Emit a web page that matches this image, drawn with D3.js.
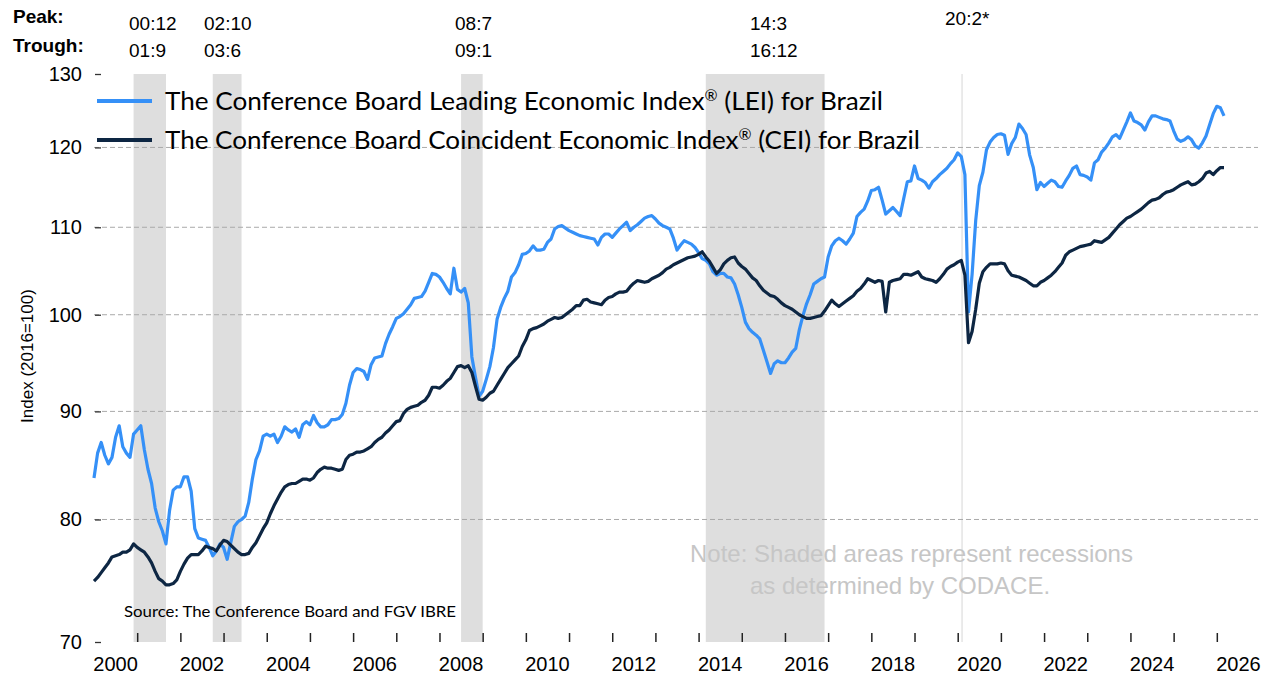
<!DOCTYPE html>
<html>
<head>
<meta charset="utf-8">
<script src="https://cdn.jsdelivr.net/npm/d3@7"></script>
<style>
    body { margin: 0; background: #fff; }
    #chart { width: 1271px; height: 675px; }
</style>
</head>
<body>
<div id="chart"></div>
<script>

// monthly values, Jan 2000 - Mar 2026 (one row per year)
const leiValues = [
    83.7, 86.0, 87.0, 85.8, 85.0, 85.6, 87.5, 88.6, 86.6, 86.0, 85.6, 87.8,
    88.2, 88.6, 86.3, 84.5, 83.2, 81.0, 79.8, 79.0, 77.9, 80.8, 82.6, 82.9,
    82.9, 83.8, 83.8, 82.5, 79.2, 78.4, 78.3, 78.2, 77.6, 76.9, 77.3, 77.9,
    77.6, 76.6, 78.0, 79.4, 79.8, 80.0, 80.3, 81.5, 83.6, 85.4, 86.2, 87.6,
    87.8, 87.6, 87.8, 87.0, 87.6, 88.5, 88.2, 88.0, 88.3, 87.5, 88.7, 89.0,
    88.7, 89.6, 88.9, 88.5, 88.5, 88.7, 89.2, 89.2, 89.3, 89.7, 90.8, 92.6,
    93.9, 94.3, 94.2, 94.0, 93.2, 94.7, 95.4, 95.5, 95.6, 96.9, 97.9, 98.7,
    99.6, 99.8, 100.1, 100.6, 101.1, 101.8, 101.9, 102.0, 102.6, 103.6, 104.6, 104.5,
    104.2, 103.6, 102.9, 102.3, 105.2, 102.8, 102.5, 102.9, 101.3, 95.5, 93.4, 91.5,
    92.0, 93.2, 94.5, 96.5, 99.5, 100.8, 101.8, 102.6, 104.2, 104.7, 105.6, 106.8,
    106.9, 107.2, 107.8, 107.3, 107.3, 107.4, 108.2, 108.6, 109.8, 110.1, 110.2, 109.9,
    109.6, 109.4, 109.2, 109.0, 108.9, 108.8, 108.7, 108.6, 107.9, 108.8, 109.2, 109.2,
    108.8, 109.3, 109.8, 110.2, 110.6, 109.6, 110.0, 110.3, 110.7, 111.1, 111.3, 111.4,
    111.0, 110.5, 110.2, 110.0, 109.8, 108.7, 107.3, 107.9, 108.4, 108.2, 108.0, 107.6,
    107.0, 106.3, 106.1, 105.7, 104.8, 104.4, 104.6, 104.6, 104.2, 104.1, 103.4, 102.2,
    100.8, 99.2, 98.5, 98.1, 97.8, 97.4, 96.2, 95.0, 93.8, 94.8, 95.1, 94.9,
    94.9, 95.4, 96.0, 96.4, 98.4, 99.9, 101.2, 102.2, 103.4, 103.7, 104.0, 104.2,
    106.5, 107.8, 108.4, 108.7, 108.4, 108.0, 108.6, 109.3, 111.3, 111.8, 112.2, 113.2,
    114.5, 114.6, 114.9, 113.3, 111.6, 112.0, 112.4, 111.9, 111.4, 113.5, 115.6, 115.7,
    117.6, 116.0, 115.8, 115.5, 114.8, 115.6, 116.0, 116.5, 116.9, 117.3, 117.9, 118.4,
    119.3, 118.8, 116.5, 100.3, 104.5, 110.8, 115.1, 116.8, 119.7, 120.7, 121.3, 121.7,
    121.8, 121.6, 119.1, 120.5, 121.3, 123.1, 122.5, 121.7, 119.0, 117.4, 114.6, 115.5,
    115.0, 115.4, 115.8, 115.6, 115.0, 114.9, 115.7, 116.4, 117.3, 117.6, 116.5, 116.4,
    116.2, 115.8, 118.0, 118.4, 119.4, 119.9, 120.6, 121.4, 121.7, 121.2, 122.3, 123.4,
    124.6, 123.5, 123.3, 123.0, 122.3, 123.4, 124.2, 124.2, 124.0, 123.8, 123.7, 123.5,
    122.2, 121.1, 120.8, 121.0, 121.4, 121.0, 120.2, 119.9, 120.6, 121.5, 123.0, 124.5,
    125.5, 125.3, 124.2
];

const ceiValues = [
    74.8, 75.1, 75.5, 75.9, 76.3, 76.8, 76.9, 77.0, 77.2, 77.2, 77.4, 77.9,
    77.6, 77.4, 77.2, 76.8, 76.3, 75.6, 75.0, 74.8, 74.5, 74.5, 74.6, 74.9,
    75.6, 76.2, 76.7, 77.0, 77.0, 77.0, 77.3, 77.7, 77.6, 77.5, 77.3, 77.8,
    78.2, 78.1, 77.8, 77.5, 77.2, 77.0, 77.0, 77.1, 77.6, 78.0, 78.6, 79.2,
    79.7, 80.5, 81.2, 81.8, 82.4, 82.9, 83.1, 83.2, 83.2, 83.4, 83.6, 83.6,
    83.5, 83.7, 84.2, 84.5, 84.7, 84.6, 84.6, 84.5, 84.4, 84.5, 85.4, 85.8,
    85.9, 86.1, 86.1, 86.2, 86.4, 86.6, 87.0, 87.3, 87.5, 87.9, 88.2, 88.6,
    89.0, 89.1, 89.8, 90.2, 90.4, 90.5, 90.6, 90.9, 91.1, 91.6, 92.4, 92.4,
    92.3, 92.6, 93.0, 93.3, 93.9, 94.5, 94.6, 94.4, 94.6, 93.9, 92.5, 91.2,
    91.1, 91.4, 91.8, 92.0, 92.6, 93.2, 93.8, 94.4, 94.8, 95.2, 95.6, 96.6,
    97.3, 98.3, 98.5, 98.6, 98.8, 99.0, 99.3, 99.5, 99.7, 99.6, 99.7, 100.0,
    100.3, 100.6, 101.0, 101.0, 101.6, 101.7, 101.4, 101.3, 101.2, 101.1, 101.6, 101.9,
    102.0, 102.3, 102.5, 102.5, 102.6, 103.1, 103.5, 103.8, 103.7, 103.6, 103.7, 104.0,
    104.2, 104.4, 104.7, 105.1, 105.3, 105.6, 105.8, 106.0, 106.2, 106.4, 106.5, 106.6,
    106.8, 107.1, 106.5, 106.0, 105.3, 104.6, 105.0, 105.7, 106.1, 106.4, 106.5, 105.8,
    105.4, 105.1, 104.6, 104.1, 103.8, 103.2, 102.7, 102.4, 102.1, 102.0, 101.7, 101.3,
    101.0, 100.8, 100.6, 100.3, 100.0, 99.8, 99.6, 99.6, 99.7, 99.8, 99.9, 100.4,
    101.0, 101.6, 101.2, 100.9, 101.2, 101.5, 101.8, 102.1, 102.6, 102.9, 103.4, 104.0,
    103.8, 103.6, 103.8, 103.7, 100.3, 103.6, 103.8, 103.9, 104.0, 104.5, 104.5, 104.4,
    104.6, 104.8, 104.2, 104.0, 103.9, 103.8, 103.6, 104.0, 104.5, 105.1, 105.4, 105.6,
    105.9, 106.1, 104.4, 97.0, 98.2, 100.6, 103.5, 104.8, 105.3, 105.7, 105.7, 105.7,
    105.8, 105.7, 104.9, 104.4, 104.3, 104.2, 104.0, 103.8, 103.5, 103.2, 103.2, 103.6,
    103.8, 104.1, 104.4, 104.8, 105.3, 105.8, 106.7, 107.1, 107.3, 107.5, 107.7, 107.8,
    107.9, 108.0, 108.4, 108.3, 108.2, 108.5, 108.8, 109.3, 109.8, 110.3, 110.7, 111.1,
    111.3, 111.6, 111.9, 112.2, 112.6, 113.0, 113.3, 113.4, 113.6, 114.0, 114.3, 114.4,
    114.6, 114.9, 115.2, 115.4, 115.6, 115.2, 115.3, 115.6, 116.0, 116.7, 116.9, 116.5,
    117.0, 117.4, 117.4
];

const startYear = 2000;
const endYear = 2027;
const yTickValues = [70, 80, 90, 100, 110, 120, 130];
const gridValues = [80, 90, 100, 110, 120];
const xLabelYears = d3.range(2000, 2027, 2);
const xTickYears = d3.range(2001, 2027);

// recessions (year:month)
const peakLabels = ["00:12", "02:10", "08:7", "14:3", "20:2*"];
const troughLabels = ["01:9", "03:6", "09:1", "16:12", ""];

const seriesNames = [
    "The Conference Board Leading Economic Index\u00AE (LEI) for Brazil",
    "The Conference Board Coincident Economic Index\u00AE (CEI) for Brazil"
];
const yAxisTitle = "Index (2016=100)";
const sourceText = "Source: The Conference Board and FGV IBRE";
const noteLines = ["Note: Shaded areas represent recessions", "as determined by CODACE."];


class IndexChart {

    constructor(parentElement) {
        this.parentElement = parentElement;
    }

    initVis() {
        let vis = this;

        vis.margin = {top: 74, right: 11, bottom: 33, left: 94};
        vis.width = 1271 - vis.margin.left - vis.margin.right;
        vis.height = 675 - vis.margin.top - vis.margin.bottom;

        vis.root = d3.select("#" + vis.parentElement).append("svg")
            .attr("width", 1271)
            .attr("height", 675)
            .style("font-family", "'Liberation Sans', Arial, sans-serif");

        vis.svg = vis.root.append("g")
            .attr("transform", "translate(" + vis.margin.left + "," + vis.margin.top + ")");

        vis.x = d3.scaleLinear()
            .domain([startYear, endYear])
            .range([0, vis.width]);

        vis.y = d3.scaleLog()
            .domain([70, 130])
            .range([vis.height, 0]);

        vis.colors = {lei: "#3590f7", cei: "#0d2643", shade: "#dedede", grid: "#a9a9a9"};

        vis.wrangleData();
    }

    wrangleData() {
        let vis = this;

        // "yy:m" -> decimal year
        vis.toYear = function (s) {
            let parts = s.replace("*", "").split(":");
            return 2000 + (+parts[0]) + (+parts[1] - 1) / 12;
        };

        vis.recessions = peakLabels.map((p, i) => ({
            start: vis.toYear(p),
            end: troughLabels[i] ? vis.toYear(troughLabels[i]) : null
        }));

        vis.series = [
            {key: "lei", values: leiValues.map((v, i) => ({t: startYear + i / 12, v: v}))},
            {key: "cei", values: ceiValues.map((v, i) => ({t: startYear + i / 12, v: v}))}
        ];

        vis.updateVis();
    }

    updateVis() {
        let vis = this;

        // recession shading
        vis.svg.selectAll(".recession")
            .data(vis.recessions)
            .enter().append("rect")
            .attr("class", "recession")
            .attr("x", d => vis.x(d.start))
            .attr("width", d => d.end ? vis.x(d.end) - vis.x(d.start) : 1.5)
            .attr("y", 0)
            .attr("height", vis.height)
            .attr("fill", d => d.end ? vis.colors.shade : "#e4e4e4");

        // dashed gridlines
        vis.svg.selectAll(".grid")
            .data(gridValues)
            .enter().append("line")
            .attr("class", "grid")
            .attr("x1", 0)
            .attr("x2", vis.width - 2)
            .attr("y1", d => vis.y(d))
            .attr("y2", d => vis.y(d))
            .attr("stroke", vis.colors.grid)
            .attr("stroke-width", 1)
            .attr("stroke-dasharray", "5,3");

        // y axis: short ticks + labels, no domain line
        let yAxis = d3.axisLeft(vis.y)
            .tickValues(yTickValues)
            .tickFormat(d3.format("d"))
            .tickSize(0)
            .tickPadding(12);

        let yg = vis.svg.append("g").attr("class", "y-axis").call(yAxis);
        yg.select(".domain").remove();
        yg.attr("font-family", null).attr("font-size", null);
        yg.selectAll("text")
            .attr("font-size", 20)
            .attr("fill", "#000");
        yg.selectAll(".tick").append("line")
            .attr("x1", 1).attr("x2", 7)
            .attr("stroke", "#333").attr("stroke-width", 1.3);

        // x axis: year ticks pointing up, labels mid-year
        let xTicks = d3.axisBottom(vis.x)
            .tickValues(xTickYears)
            .tickSize(-9)
            .tickFormat("");

        let xg = vis.svg.append("g")
            .attr("class", "x-axis")
            .attr("transform", "translate(0," + vis.height + ")")
            .call(xTicks);
        xg.select(".domain").remove();
        xg.attr("font-family", null).attr("font-size", null);
        xg.selectAll(".tick line").attr("stroke", "#222").attr("stroke-width", 1.5);

        xg.selectAll(".year-label")
            .data(xLabelYears)
            .enter().append("text")
            .attr("class", "year-label")
            .attr("x", d => vis.x(d + 0.5))
            .attr("y", 29)
            .attr("text-anchor", "middle")
            .attr("font-size", 20)
            .attr("fill", "#000")
            .text(d => d);

        // series lines
        let line = d3.line()
            .x(d => vis.x(d.t))
            .y(d => vis.y(d.v));

        vis.svg.selectAll(".series")
            .data(vis.series)
            .enter().append("path")
            .attr("class", "series")
            .attr("fill", "none")
            .attr("stroke", d => vis.colors[d.key])
            .attr("stroke-width", 3.2)
            .attr("stroke-linejoin", "round")
            .attr("d", d => line(d.values));

        // legend (registered mark raised and smaller)
        let legend = vis.root.append("g").attr("class", "legend");
        let legendRows = [{y: 101, len: 718}, {y: 140, len: 755}];
        seriesNames.forEach((name, i) => {
            legend.append("line")
                .attr("x1", 97).attr("x2", 152)
                .attr("y1", legendRows[i].y).attr("y2", legendRows[i].y)
                .attr("stroke", vis.colors[vis.series[i].key])
                .attr("stroke-width", 4);
            let parts = name.split("\u00AE");
            let t = legend.append("text")
                .attr("x", 165)
                .attr("y", legendRows[i].y + 9)
                .style("font-family", "Lato, 'Open Sans', sans-serif")
                .attr("font-size", 25)
                .attr("textLength", legendRows[i].len)
                .attr("lengthAdjust", "spacingAndGlyphs");
            t.append("tspan").text(parts[0]);
            t.append("tspan").attr("font-size", 15).attr("dy", -9).text("\u00AE");
            t.append("tspan").attr("dy", 9).text(parts[1]);
        });

        // y axis title
        vis.root.append("text")
            .attr("transform", "translate(33,356) rotate(-90)")
            .attr("text-anchor", "middle")
            .attr("font-size", 17)
            .text(yAxisTitle);

        // peak / trough header
        let header = vis.root.append("g").attr("class", "header");
        header.append("text").attr("x", 13).attr("y", 23)
            .attr("font-weight", "bold").attr("font-size", 19).text("Peak:");
        header.append("text").attr("x", 13).attr("y", 52)
            .attr("font-weight", "bold").attr("font-size", 19).text("Trough:");

        let headerX = [129, 204, 455, 750, 945];
        let headerY = [30, 30, 30, 30, 25];
        peakLabels.forEach((p, i) => {
            header.append("text").attr("x", headerX[i]).attr("y", headerY[i])
                .attr("font-size", 19).text(p);
            header.append("text").attr("x", headerX[i]).attr("y", 57)
                .attr("font-size", 19).text(troughLabels[i]);
        });

        // source + note
        vis.root.append("text")
            .attr("x", 124).attr("y", 617)
            .style("font-family", "Lato, 'Open Sans', sans-serif")
            .attr("font-size", 16)
            .attr("textLength", 332)
            .attr("lengthAdjust", "spacingAndGlyphs")
            .text(sourceText);

        vis.root.selectAll(".note")
            .data(noteLines)
            .enter().append("text")
            .attr("class", "note")
            .attr("x", (d, i) => i === 0 ? 690 : 750)
            .attr("y", (d, i) => 562 + i * 32)
            .attr("font-size", 24)
            .attr("fill", "#c6c6c6")
            .text(d => d);
    }
}

let chart = new IndexChart("chart");
chart.initVis();

</script>
</body>
</html>
